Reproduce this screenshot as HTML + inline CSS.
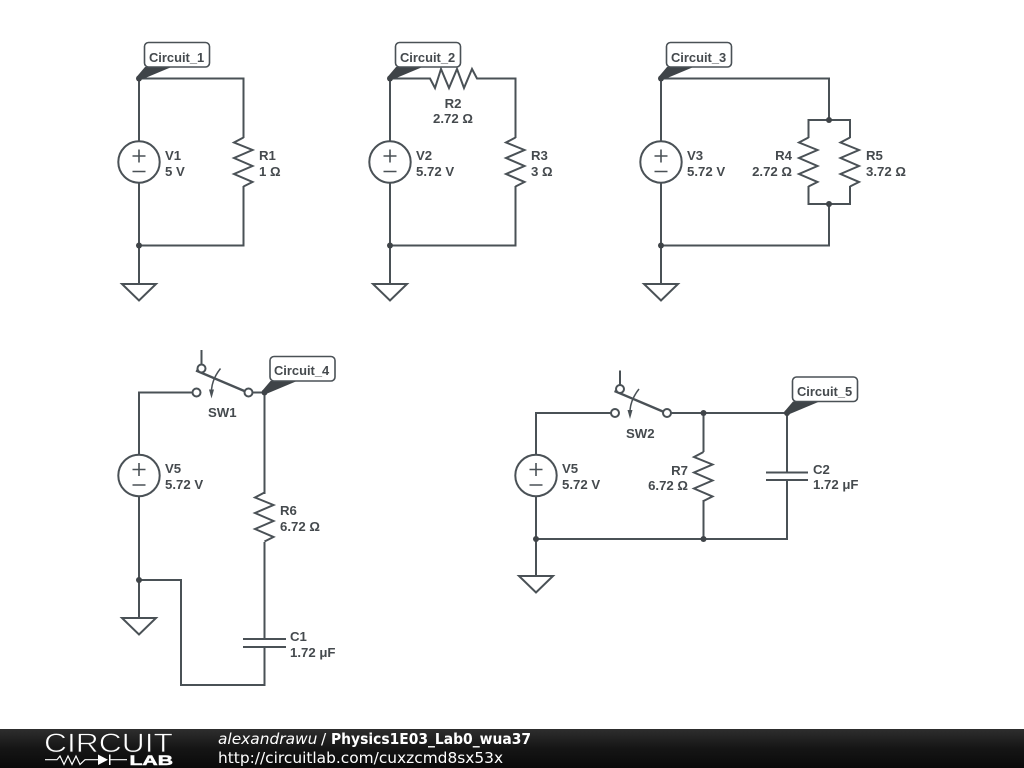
<!DOCTYPE html>
<html><head><meta charset="utf-8"><style>
html,body{margin:0;padding:0;background:#fff;width:1024px;height:768px;overflow:hidden}
svg{display:block}
.w{fill:none;stroke:#4a5156;stroke-width:2}
.t{font:bold 13.2px "Liberation Sans",sans-serif;fill:#454a4e}
.n{font:bold 12.9px "Liberation Sans",sans-serif;fill:#454a4e}
.f{font-family:"DejaVu Sans",sans-serif;font-size:15.4px;fill:#fff}
</style></head><body>
<svg width="1024" height="768" viewBox="0 0 1024 768" xmlns="http://www.w3.org/2000/svg">
<defs>
<linearGradient id="bar" x1="0" y1="0" x2="0" y2="1"><stop offset="0" stop-color="#2e2e2e"/><stop offset=".5" stop-color="#151515"/><stop offset="1" stop-color="#0a0a0a"/></linearGradient>
<g id="v"><circle cx="0" cy="0" r="20.7" fill="#fff" stroke="#4a5156" stroke-width="2"/><path class="w" style="stroke-width:1.6" d="M-6.500,-6H6.500M0,-12.500V0.500M-6.500,9.500H6.500"/></g>
<path id="r" class="w" d="M0,-25 L-9.500,-20 L9,-12.500 L-9.500,-4.500 L9,3.500 L-9.500,11.500 L9,19.500 L0,24"/>
<path id="g" class="w" d="M0,-38V0M-17,0H17L0,16.500Z"/>
<circle id="d" r="3" fill="#3f4448"/>
<g id="tag"><circle r="3" fill="#3f4448"/><path d="M-2.500,-1.500 L6,-11.500 L32.500,-11.500 L1.500,1.500Z" fill="#3f4448"/><rect x="5.500" y="-36" width="65" height="24.500" rx="4" fill="#fff" stroke="#4a5156" stroke-width="1.600"/></g>
<g id="sw"><path class="w" d="M-0.500,-22 L49,-1" style="stroke-width:2.400"/><circle cx="0" cy="0" r="4" fill="#fff" stroke="#4a5156" stroke-width="2"/><circle cx="52" cy="0" r="4" fill="#fff" stroke="#4a5156" stroke-width="2"/><circle cx="5" cy="-24" r="4" fill="#fff" stroke="#4a5156" stroke-width="2"/><path class="w" d="M5,-28V-42.500"/><path class="w" style="stroke-width:1.500" d="M24,-24 Q16,-14 15,-3"/><path d="M12.500,-3 L17.500,-3 L15,6Z" fill="#4a5156"/></g>
</defs>

<!-- Circuit 1 -->
<path class="w" d="M139,142V78.500H243.500V138M243.500,186V245.500H139M139,183V284"/>
<use href="#v" x="139" y="162"/><use href="#r" x="243.500" y="162.500"/><use href="#g" x="139" y="284"/>
<use href="#d" x="139" y="245.500"/><use href="#tag" x="139" y="78.500"/>
<text class="n" x="149" y="62">Circuit_1</text>
<text class="t" x="165" y="160">V1</text><text class="t" x="165" y="176">5 V</text>
<text class="t" x="259" y="160">R1</text><text class="t" x="259" y="176">1 Ω</text>

<!-- Circuit 2 -->
<path class="w" d="M390,142V78.500H430L435,88 L441,69 L449,88 L457,69 L464,88 L472,69 L477,78.500H515.500V138M515.500,186V245.500H390M390,183V284"/>
<use href="#v" x="390" y="162"/><use href="#r" x="515.500" y="162.500"/><use href="#g" x="390" y="284"/>
<use href="#d" x="390" y="245.500"/><use href="#tag" x="390" y="78.500"/>
<text class="n" x="400" y="62">Circuit_2</text>
<text class="t" x="453" y="108" text-anchor="middle">R2</text><text class="t" x="453" y="123" text-anchor="middle">2.72 Ω</text>
<text class="t" x="416" y="160">V2</text><text class="t" x="416" y="176">5.72 V</text>
<text class="t" x="531" y="160">R3</text><text class="t" x="531" y="176">3 Ω</text>

<!-- Circuit 3 -->
<path class="w" d="M661,142V78.500H829V120M808.500,138V120H850V138M808.500,186V204H850V186M829,204V245.500H661M661,183V284"/>
<use href="#v" x="661" y="162"/><use href="#r" x="808.500" y="162.500"/><use href="#r" x="850" y="162.500"/><use href="#g" x="661" y="284"/>
<use href="#d" x="661" y="245.500"/><use href="#d" x="829" y="120"/><use href="#d" x="829" y="204"/><use href="#tag" x="661" y="78.500"/>
<text class="n" x="671" y="62">Circuit_3</text>
<text class="t" x="687" y="160">V3</text><text class="t" x="687" y="176">5.72 V</text>
<text class="t" x="792" y="160" text-anchor="end">R4</text><text class="t" x="792" y="176" text-anchor="end">2.72 Ω</text>
<text class="t" x="866" y="160">R5</text><text class="t" x="866" y="176">3.72 Ω</text>

<!-- Circuit 4 -->
<path class="w" d="M192,392.500H139V455M139,496V618M139,580H181V685H264.500V647M264.500,639V542M264.500,494V392.500H253"/>
<use href="#v" x="139" y="475.500"/><use href="#r" x="264.500" y="517.500"/><use href="#g" x="139" y="618"/>
<use href="#sw" x="196.500" y="392.500"/>
<path class="w" d="M243,639H286M243,647H286"/>
<use href="#d" x="139" y="580"/><use href="#tag" x="264.500" y="392.500"/>
<text class="n" x="274" y="375">Circuit_4</text>
<text class="t" x="208" y="417">SW1</text>
<text class="t" x="165" y="473">V5</text><text class="t" x="165" y="489">5.72 V</text>
<text class="t" x="280" y="515">R6</text><text class="t" x="280" y="531">6.72 Ω</text>
<text class="t" x="290" y="641">C1</text><text class="t" x="290" y="657">1.72 μF</text>

<!-- Circuit 5 -->
<path class="w" d="M611,413H536V455M536,496V576M671,413H787V472.500M787,480V539H536M703.500,413V452M703.500,500V539"/>
<use href="#v" x="536" y="475.500"/><use href="#r" x="703.500" y="477"/><use href="#g" x="536" y="576"/>
<use href="#sw" x="615" y="413"/>
<path class="w" d="M766,472.500H808M766,480H808"/>
<use href="#d" x="703.500" y="413"/><use href="#d" x="536" y="539"/><use href="#d" x="703.500" y="539"/><use href="#tag" x="787" y="413"/>
<text class="n" x="797" y="396">Circuit_5</text>
<text class="t" x="626" y="438">SW2</text>
<text class="t" x="562" y="473">V5</text><text class="t" x="562" y="489">5.72 V</text>
<text class="t" x="688" y="475" text-anchor="end">R7</text><text class="t" x="688" y="490" text-anchor="end">6.72 Ω</text>
<text class="t" x="813" y="474">C2</text><text class="t" x="813" y="489">1.72 μF</text>

<!-- Footer -->
<rect x="0" y="729" width="1024" height="39" fill="url(#bar)"/>
<text x="44" y="752" style="font:27px 'Liberation Sans',sans-serif;fill:#fff;stroke:#222;stroke-width:.7px" textLength="129" lengthAdjust="spacingAndGlyphs">CIRCUIT</text>
<path d="M45,759.700H57L60,756 L64,764.500 L68,756 L72,764.500 L76,756 L80,764.500 L85,759.700H98M109,759.700H127" fill="none" stroke="#fff" stroke-width="1.200"/>
<path d="M98,754.500V765L108,759.700Z M109,754.500h1.500v10.500H109Z" fill="#fff"/>
<text x="129.500" y="765" style="font:bold 13.500px 'Liberation Sans',sans-serif;fill:#fff;stroke:#fff;stroke-width:.5px" textLength="43.500" lengthAdjust="spacingAndGlyphs">LAB</text>
<text class="f" x="218" y="744" font-style="italic">alexandrawu</text>
<text class="f" x="321" y="744">/</text>
<text class="f" x="331" y="744" font-weight="bold" textLength="200" lengthAdjust="spacingAndGlyphs">Physics1E03_Lab0_wua37</text>
<text class="f" x="218" y="763">http://circuitlab.com/cuxzcmd8sx53x</text>
</svg>
</body></html>
